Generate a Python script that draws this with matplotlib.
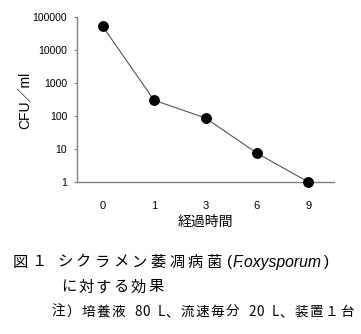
import matplotlib
matplotlib.use("Agg")
import matplotlib.pyplot as plt
from matplotlib.ticker import FixedLocator, FixedFormatter, NullLocator

# 経過時間ごとの菌数
hours = ["0", "1", "3", "6", "9"]
cfu = [52000, 300, 87, 7.5, 1]
ytick_vals = [1, 10, 100, 1000, 10000, 100000]
ytick_labels = ["1", "10", "100", "1000", "10000", "100000"]

W, H = 361, 334
JP = ["Noto Sans CJK JP", "DejaVu Sans"]
plt.rcParams["font.family"] = ["Liberation Sans", "Noto Sans CJK JP", "DejaVu Sans"]

fig = plt.figure(figsize=(W / 100, H / 100), dpi=100)
ax = fig.add_axes([77 / W, 1 - 182 / H, 257 / W, 165 / H])

x = list(range(len(hours)))
ax.plot(x, cfu, color="#555555", lw=0.8, marker="o", ms=6.8,
        mfc="black", mec="black", zorder=3, clip_on=False)
ax.set_yscale("log")
ax.set_ylim(1, 100000)
ax.set_xlim(-0.5, len(hours) - 0.5)

ax.yaxis.set_major_locator(FixedLocator(ytick_vals))
ax.yaxis.set_major_formatter(FixedFormatter(ytick_labels))
ax.yaxis.set_minor_locator(NullLocator())
ax.set_xticks(x)
ax.set_xticklabels(hours)
ax.tick_params(axis="y", labelsize=7.5, length=2.5, width=0.8, color="#808080", pad=4.5)
ax.tick_params(axis="x", labelsize=8, length=0, pad=13.5)

for side in ("top", "right"):
    ax.spines[side].set_visible(False)
for side in ("left", "bottom"):
    ax.spines[side].set_color("#808080")
    ax.spines[side].set_linewidth(1.0)

ax.set_ylabel("CFU／ml", fontsize=10)
ax.yaxis.set_label_coords((25 - 77) / 257, (182 - 100) / 165)
ax.yaxis.label.set_va("center")
ax.set_xlabel("経過時間", fontsize=10, family=JP)
ax.xaxis.set_label_coords((205 - 77) / 257, (182 - 222) / 165)
ax.xaxis.label.set_va("center")


def spaced(x0, y, text, pitch, size):
    """全角は pitch、半角は pitch/2 で1文字ずつ並べる。"""
    for ch in text:
        fig.text(x0 / W, 1 - y / H, ch, fontsize=size, family=JP, va="center", ha="left")
        x0 += pitch if ord(ch) > 0x2000 else pitch / 2


# 図の表題（学名だけ斜体）
spaced(13, 262, "図１", 18.5, 11)
spaced(57, 262, "シクラメン萎凋病菌", 18.7, 11)
fig.text(227 / W, 1 - 262 / H, "(", fontsize=11, va="center")
sp = fig.text(233 / W, 1 - 262 / H, "F.oxysporum", fontsize=11.3, style="italic", va="center")
fig.canvas.draw()
bb = sp.get_window_extent(fig.canvas.get_renderer())
fig.text((bb.x1 + 2) / W, 1 - 262 / H, ")", fontsize=11, va="center")
spaced(61, 287, "に対する効果", 17.5, 11)
spaced(51, 312, "注）培養液 80 L、流速毎分 20 L、装置１台", 15.2, 9.8)

fig.savefig("out.png", dpi=100)
